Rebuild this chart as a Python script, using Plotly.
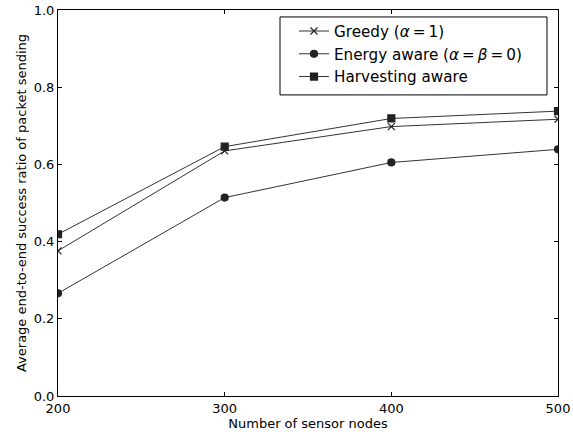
import plotly.graph_objects as go

nodes = [200, 300, 400, 500]
greedy = [0.376, 0.635, 0.698, 0.717]
energy = [0.266, 0.514, 0.605, 0.639]
harvest = [0.419, 0.646, 0.719, 0.738]

T = "\u2009"
names = [f"Greedy (<i>α</i>{T}={T}1)",
         f"Energy aware (<i>α</i>{T}={T}<i>β</i>{T}={T}0)",
         "Harvesting aware"]
symbols = ["x-thin-open", "circle", "square"]

fig = go.Figure()
for ys, nm, sym in zip([greedy, energy, harvest], names, symbols):
    fig.add_trace(go.Scatter(
        x=nodes, y=ys, name=nm, mode="lines+markers",
        line=dict(color="#333333", width=1),
        marker=dict(symbol=sym, size=7, color="#222222",
                    line=dict(color="#222222", width=1.2)),
    ))

axis_common = dict(
    showgrid=False, zeroline=False, showline=True, linecolor="black", linewidth=1,
    mirror="ticks", ticks="inside", ticklen=4, tickcolor="black", automargin=False,
    tickfont=dict(family="DejaVu Sans", size=13, color="black"),
)
fig.update_xaxes(range=[200, 500], tickvals=nodes,
                 title=dict(text="Number of sensor nodes", standoff=1,
                            font=dict(family="DejaVu Sans", size=13, color="black")),
                 **axis_common)
fig.update_yaxes(range=[0, 1], dtick=0.2, tickformat=".1f",
                 title=dict(text="Average end-to-end success ratio of packet sending", standoff=4,
                            font=dict(family="DejaVu Sans", size=13, color="black")),
                 **axis_common)

# legend frame drawn as a paper-anchored rectangle
fig.add_shape(type="rect", xref="paper", yref="paper",
              x0=0.444, x1=0.978, y0=0.78, y1=0.982,
              line=dict(color="black", width=1), fillcolor="white", layer="below")

fig.update_layout(
    width=573, height=432,
    margin=dict(l=58, r=15, t=10, b=36),
    plot_bgcolor="white", paper_bgcolor="white",
    font=dict(family="DejaVu Sans", color="black"),
    legend=dict(x=0.472, y=0.988, xanchor="left", yanchor="top",
                borderwidth=0, bgcolor="rgba(0,0,0,0)",
                font=dict(family="DejaVu Sans", size=15.2, color="black"),
                tracegroupgap=0, itemwidth=30),
)
fig.write_html("out.html", config={"displayModeBar": False},
               post_script="document.body.style.margin='0';document.body.style.overflow='hidden';")
